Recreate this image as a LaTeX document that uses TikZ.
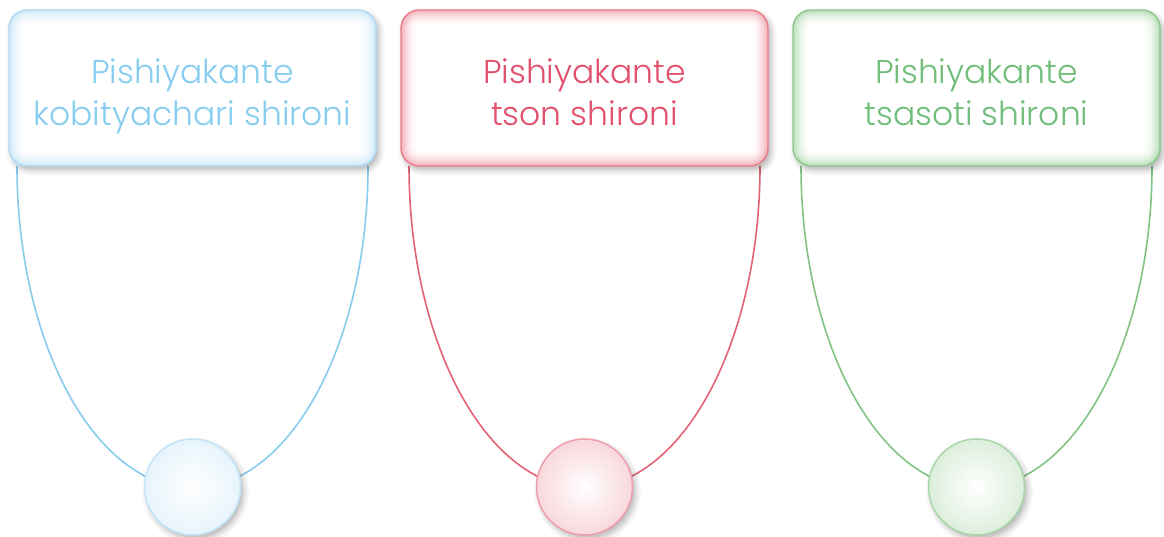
\documentclass[tikz,border=0pt]{standalone}
\usepackage{fontspec}
\IfFontExistsTF{Poppins Light}{\setmainfont{Poppins Light}}{\setmainfont{Poppins}}
\usetikzlibrary{shadows.blur}
\definecolor{blueL}{RGB}{135,203,238}
\definecolor{blueB}{RGB}{175,218,243}
\definecolor{blueT}{RGB}{135,205,240}
\definecolor{redL}{RGB}{226,98,118}
\definecolor{redB}{RGB}{234,125,140}
\definecolor{redT}{RGB}{225,80,108}
\definecolor{greenL}{RGB}{128,196,132}
\definecolor{greenB}{RGB}{140,200,140}
\definecolor{greenT}{RGB}{112,190,122}
\tikzset{
  boxshape/.style={minimum width=367pt, minimum height=156pt, rounded corners=18pt, inner sep=0pt,
    fill=white, draw=#1B, line width=1.4pt,
    blur shadow={shadow xshift=3pt, shadow yshift=-4pt, shadow blur radius=6pt, shadow opacity=30},
    path picture={\foreach \k in {0,...,16}{
      \pgfmathsetmacro{\pc}{60*(1-\k/17)^2}
      \pgfmathsetmacro{\rr}{max(18-\k,2)}
      \fill[#1B!\pc!white, rounded corners=\rr pt]
        ([shift={(\k*1pt,\k*1pt)}]path picture bounding box.south west) rectangle
        ([shift={(-\k*1pt,-\k*1pt)}]path picture bounding box.north east);}}},
  boxtext/.style={text=#1T, align=center, inner sep=0pt, font=\fontsize{33}{42}\selectfont},
  circshape/.style={circle, minimum size=96pt, inner sep=0pt, draw=#1B!75, line width=1.5pt,
    inner color=white, outer color=#1B!30,
    blur shadow={shadow xshift=3pt, shadow yshift=-4pt, shadow blur radius=6pt, shadow opacity=30}},
  connector/.style={draw=#1L, line width=1.6pt}
}
\begin{document}
\begin{tikzpicture}[x=1pt,y=1pt]
\useasboundingbox (0,0) rectangle (1164,537);
\foreach \i/\cx/\c/\la/\lb in {1/192.5/blue/Pishiyakante/kobityachari shironi,
                            2/584.5/red/Pishiyakante/tson shironi,
                            3/976.5/green/Pishiyakante/tsasoti shironi}{
  \coordinate (arcstart\i) at (\cx-175.5,371);
  \draw[connector=\c] (arcstart\i) arc[start angle=180, end angle=360, x radius=175.5, y radius=322];
  \node[circshape=\c] (circ\i) at (\cx,50) {};
  \node[boxshape=\c] (box\i) at (\cx,449) {};
  \node[boxtext=\c] (text\i) at ([yshift=-8pt]box\i.center) {\strut\la\\\strut\lb};
}
\end{tikzpicture}
\end{document}
